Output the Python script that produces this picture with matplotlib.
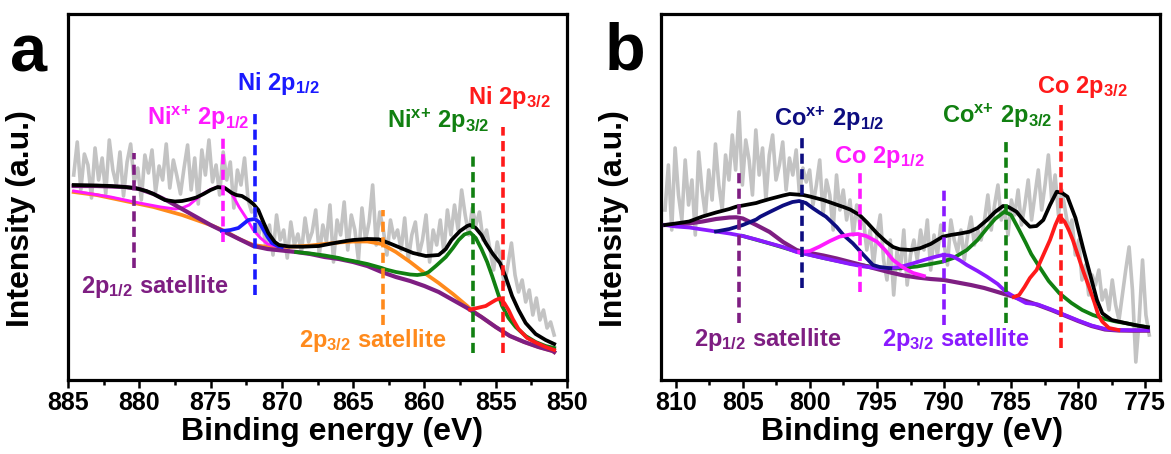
import numpy as np
import matplotlib
matplotlib.use("Agg")
import matplotlib.pyplot as plt

plt.rcParams['font.family'] = ['Liberation Sans', 'DejaVu Sans']
plt.rcParams['font.weight'] = 'bold'
plt.rcParams['mathtext.fontset'] = 'custom'
for k in ['rm', 'it', 'bf', 'sf']:
    plt.rcParams['mathtext.' + k] = 'Liberation Sans:bold'
plt.rcParams['mathtext.default'] = 'rm'

# ---------------- Panel a : Ni 2p ----------------
a_raw = [205, 238, 190, 226, 215, 182, 232, 200, 222, 186, 240, 210, 195, 228, 184, 218, 236, 198, 212, 180,
         225, 207, 230, 188, 214, 200, 236, 192, 220, 204, 186,
         212, 235, 190, 222, 176, 230, 205, 240, 198, 215, 185, 228, 200, 218, 172, 210, 195, 222, 180, 168,
         170, 145, 160, 132, 155, 125, 165, 140, 150, 122, 158, 135, 146, 128, 162, 138,
         148, 170, 125, 155, 138, 175, 118, 160, 145, 178, 130, 165, 150, 120, 172, 140, 158, 195, 135, 168,
         150, 125, 160, 142,
         150, 130, 162, 120, 145, 158, 125, 140, 165, 118, 150, 135, 160, 128, 170, 145,
         175, 150, 190, 165, 145, 172, 155, 168, 140, 150,
         130, 110, 138, 120, 95, 115, 137, 105, 88, 100, 78, 90, 65, 82, 60, 70, 52, 58, 45]
a_raw_e = np.linspace(884.6, 850.9, len(a_raw))

a_bg_e = [884.6, 883, 882, 881, 880, 879, 878, 877, 876, 875, 874, 873, 872, 871, 870, 869, 868, 867, 866, 865,
          864, 863, 862, 861, 860, 859, 858, 857, 856, 855, 854, 853, 852, 851, 850.9]
a_bg = [194, 194, 193.5, 193, 191, 186, 179, 171, 163, 155, 148, 141, 134, 131, 129.5, 128, 126, 123, 121, 118,
        114, 108, 103, 99, 94, 88, 80, 72, 63, 53, 44, 38, 33, 29, 28]

a_sat32_e = [884.6, 883, 882, 881, 880, 879, 878, 877, 876, 875, 874, 873, 872, 871, 870, 869, 868, 867, 866, 865,
             864, 863, 862, 861, 860, 859, 858, 857, 856.7, 856, 855, 854, 853, 852, 851, 850.9]
a_sat32 = [188, 185, 182, 179, 176, 173, 169, 165, 160, 155, 149, 141, 135, 133, 133, 133.5, 134.5, 136, 137.5, 138.5,
           138.5, 136, 128, 118, 107, 97, 86, 74, 70, 63, 53, 44, 38, 33, 29, 28]

a_nix12_e = [884.6, 882, 880, 878.5, 877.5, 877, 876.5, 876, 875.5, 875, 874.5, 874, 873.5, 873, 872.5, 872,
             871.5, 871, 870.5, 870, 869.5]
a_nix12 = [189, 183, 177, 173, 171, 172, 175, 181, 186.5, 190.5, 193, 192, 186, 173, 162, 150, 142, 136, 134, 133.5,
           133.5]

a_ni12_e = [874.2, 873.6, 873.05, 872.7, 872.35, 871.9, 871.6, 871.4, 871, 870.7, 870.3, 870]
a_ni12 = [149, 150, 152, 156, 160, 161, 158, 153, 143, 137, 134, 133]

a_nix32_e = [869, 868, 867, 866, 865.6, 865, 864, 863, 862.7, 862, 861, 860.5, 860, 859.7, 859.2, 858.5, 858,
             857.6, 857.2, 856.8, 856.4, 856, 855.6, 855.25, 854.9, 854.55, 854.1, 853.6, 852.9, 852.2, 851.5,
             850.9]
a_nix32 = [128, 126.5, 124.5, 122, 120.5, 119, 116, 112, 110.5, 108, 105.5, 105, 106, 108, 114, 123, 132,
           140, 145.5, 147.5, 142, 131, 118, 104, 89, 74, 62, 53, 44, 38, 34, 32]

a_ni32_e = [856.8, 856.3, 855.7, 855.3, 855, 854.7, 854.4, 854.1, 853.8, 853.4, 852.8, 852.2, 851.5, 850.9]
a_ni32 = [70.5, 72, 74, 77.5, 80, 81.7, 77, 70, 61, 51, 42, 37.5, 33, 30]

a_env_e = [884.6, 883, 882, 881, 880.3, 879.5, 879, 878.2, 877.5, 877, 876.5, 876, 875.5, 875, 874.5, 874, 873.5,
           873.2, 872.8, 872.35, 872, 871.65, 871.3, 870.95, 870.5, 870.2, 869.5, 868.5, 867.4, 866.5, 865.5, 865,
           864, 863.2, 862.5, 861.6, 860.8, 859.9, 859, 858.5, 858.1, 857.5, 857, 856.8, 856.4, 856, 855.7, 855.2,
           854.7, 854.3, 853.85, 853.4, 852.9, 852.2, 851.5, 850.9]
a_env = [195, 194.5, 194, 193, 192, 189, 186, 180, 178.5, 179, 180.5, 182.5, 186, 190, 193, 192, 187,
         185, 184, 180, 176, 170, 158, 147, 138, 135, 133.5, 133.3, 134, 136.5, 139, 140,
         141, 140.7, 137, 131.7, 127, 124, 125, 131, 140, 149, 154, 155, 152, 145, 137, 126,
         117, 103, 84, 70, 57, 46, 40, 36]

a_mark_e = [880.4, 874.1, 871.9, 862.9, 856.6, 854.5]
a_mark_lo = [112, 138, 85, 55, 27, 27]
a_mark_hi = [227, 242, 268, 170, 227, 253]

a_labels = [r'$Ni^{x\text{+}}\ 2p_{1/2}$', r'$Ni\ 2p_{1/2}$', r'$Ni^{x\text{+}}\ 2p_{3/2}$', r'$Ni\ 2p_{3/2}$',
            r'$2p_{1/2}\ satellite$', r'$2p_{3/2}\ satellite$']
a_label_e = [879.45, 873.12, 862.65, 856.96, 884.09, 868.77]
a_label_y = [255, 290, 252, 276, 87, 33]

# ---------------- Panel b : Co 2p ----------------
b_raw = [170, 215, 150, 232, 185, 160, 220, 175, 200, 145, 228, 190, 165, 210, 180, 236, 195, 170, 225,
         200, 245, 210, 268, 195, 240, 220, 185, 250, 205, 232, 180, 225, 245, 200, 215, 238, 190, 222, 205,
         230, 185, 212, 198,
         210, 175, 195, 220, 165, 200, 185, 150, 205, 170, 190, 160, 180, 145, 175, 155,
         160, 130, 150, 115, 145, 165, 120, 100, 140, 85, 130, 110, 150, 95, 125, 140,
         120, 150, 130, 160, 110, 145, 125, 155, 135, 115, 160, 140, 128, 150, 120, 145, 163, 135, 150, 140,
         160, 185, 150, 175, 195, 160, 170, 145, 180, 165, 190, 155,
         175, 200, 160, 185, 210, 170, 195, 225, 180, 205, 165, 190,
         170, 150, 160, 125, 140, 100, 115, 85, 105, 95, 110, 80,
         90, 70, 100, 75, 60, 85, 110, 133, 90, 18, 60, 120, 65, 45]
b_raw_e = np.linspace(810.8, 774.7, len(b_raw))

b_sat12_e = [810.8, 810, 809, 808, 807, 806, 805.5, 805, 804, 803, 802, 801, 800.5, 800, 799, 798, 797, 796,
             795, 794, 793, 792, 791, 790, 789, 788, 787, 786, 785, 784, 783, 782, 781, 780, 779, 778, 777,
             776, 775, 774.8]
b_sat12 = [155, 155.5, 156.5, 158.5, 161, 162.5, 162.7, 161.5, 155, 148, 138, 130, 128, 127, 124.5, 121.5, 118,
           114.5, 111, 107.5, 104.5, 102.5, 101, 100, 97.5, 95, 92, 88, 84, 79.5, 75, 70, 64.5, 59, 54, 50.5,
           49.5, 49.3, 49.3, 49.3]

b_sat32_e = [810.8, 810, 809, 808, 807, 806, 805, 804, 803, 802, 801, 800, 799, 798, 797, 796, 795, 794.3,
             793.5, 793, 792.3, 791.5, 790.8, 790.1, 789.6, 789.3, 788.8, 788.3, 787.5, 786.8, 786, 785.4,
             784.6, 783.9, 783, 782, 781, 780, 779, 778, 777, 776, 775, 774.8]
b_sat32 = [155, 153.5, 152.5, 150.5, 148.5, 146.5, 144, 140.5, 136.7, 133, 128, 125, 122, 119, 116, 113.5, 112,
           111.7, 112.5, 114, 116.7, 120, 122.7, 125, 124.5, 123.3, 119.5, 115, 109, 103.3, 96, 88.3,
           82, 77, 75.5, 70.5, 65, 59.5, 54.5, 51, 50, 49.8, 49.8, 49.8]

b_cox12_e = [807, 806, 805, 804, 803.7, 803, 802, 801.3, 800.8, 800.3, 799.8, 799.3, 798.8, 798, 797.5, 796.8,
             796, 795.3, 794.8, 794]
b_cox12 = [148.5, 151, 155, 160.5, 163.3, 168, 174.5, 178, 179, 177, 172, 167.5, 163.3, 153, 145, 136.7,
           125, 115, 113, 111.7]

b_co12_e = [800.8, 800, 799.3, 798.5, 797.8, 797, 796.4, 795.8, 795, 794.4, 793.8, 793, 792.3, 791.5]
b_co12 = [128, 129, 133.3, 139, 143.3, 145.5, 146, 144, 138.3, 130, 120, 112, 107, 104]

b_cox32_e = [805, 803, 801, 799, 797, 795, 794, 793.3, 792, 791, 790.1, 789.3, 788.3, 787.5, 786.8, 786.2,
             785.5, 785, 784.4, 783.9, 783.5, 782.9, 782.2, 781.4, 780.5, 779.7, 778.9, 778, 777.2, 776.4,
             775.6, 774.8]
b_cox32 = [144, 136.5, 128.5, 122, 116.5, 112.5, 111.7, 111.7, 113.5, 116, 118.3, 122, 130, 140, 151.7, 161,
           168.3, 165, 150, 137, 126, 113.3, 99, 86.7, 77, 70, 65, 61, 58.5, 56.7, 54.5, 52.7]

b_co32_e = [784.8, 784.4, 784, 783.6, 783.1, 782.6, 782.1, 781.7, 781.4, 781, 780.7, 780.4, 780, 779.6, 779.2,
            778.8, 778.5, 778.2, 777.7, 777]
b_co32 = [83, 85, 93, 102, 110, 125, 140, 155, 164, 158, 150, 140, 124, 108, 93.3, 78, 65, 58.3, 52, 50]

b_env_e = [810.8, 810, 809, 808.7, 808, 807, 806, 805.5, 805, 804, 803.7, 803, 802, 801.5, 800.5, 800, 799,
           798.3, 797.5, 797, 796.3, 795.7, 795, 794.3, 793.8, 793.3, 792.5, 791.8, 791, 790.1, 789.5, 788.8,
           788.1, 787.5, 786.8, 786.2, 785.6, 785.2, 784.6, 784.1, 783.6, 783.1, 782.6, 782.1, 781.6, 781.2,
           780.8, 780.2, 779.6, 779, 778.6, 778.2, 777.5, 776.4, 775.6, 774.8]
b_env = [155, 156.5, 158.5, 160, 163.5, 167.5, 171, 173.3, 174.5, 177, 178.3, 181, 184.5, 186, 185, 183.5, 180,
         176.7, 173, 170.5, 165, 157, 146.7, 138, 133, 130.7, 130, 131.7, 136, 143.3, 145, 146.5,
         148.3, 152, 160, 168, 174, 173, 168.3, 160, 153.3, 154, 160, 175, 188.3, 187,
         183.3, 162, 130, 100, 80, 66.7, 60, 56.7, 54.5, 52.7]

b_mark_e = [805.3, 800.6, 796.3, 790.0, 785.4, 781.3]
b_mark_lo = [57, 92, 88, 55, 57, 32]
b_mark_hi = [210, 245, 208, 192, 243, 278]

b_labels = [r'$Co^{x\text{+}}\ 2p_{1/2}$', r'$Co\ 2p_{1/2}$', r'$Co^{x\text{+}}\ 2p_{3/2}$', r'$Co\ 2p_{3/2}$',
            r'$2p_{1/2}\ satellite$', r'$2p_{3/2}\ satellite$']
b_label_e = [802.67, 798.23, 790.18, 783.1, 808.64, 794.62]
b_label_y = [254, 217, 257, 287, 34, 34]

ticks_a = [885, 880, 875, 870, 865, 860, 855, 850]
ticks_b = [810, 805, 800, 795, 790, 785, 780, 775]

# ---------------- styles ----------------
C_GRAY = '#C3C3C3'
C_PURPLE = '#7E1E82'
C_ORANGE = '#FF8A1C'
C_MAGENTA = '#FF1AFF'
C_BLUE = '#1A1AFF'
C_GREEN = '#118011'
C_RED = '#FF1A1A'
C_NAVY = '#0D0D80'
C_VIOLET = '#8A1AFF'

fig = plt.figure(figsize=(11.71, 4.54), dpi=100)
axa = fig.add_axes([68 / 1171, 74 / 454, 499 / 1171, 366 / 454])
axb = fig.add_axes([661 / 1171, 74 / 454, 499 / 1171, 366 / 454])

LW = 2.7
DASH = (0, (2.8, 1.5))

def style(ax, xlim, ticks):
    ax.set_xlim(*xlim)
    ax.set_ylim(0, 366)
    ax.set_yticks([])
    ax.set_xticks(ticks)
    ax.set_xticks([t - 2.5 for t in ticks[:-1]], minor=True)
    ax.tick_params(axis='x', which='major', direction='out', length=6, width=1.8, pad=2, labelsize=18)
    ax.tick_params(axis='x', which='minor', direction='out', length=3.5, width=1.8)
    for s in ax.spines.values():
        s.set_linewidth(2.3)
    ax.set_xlabel('Binding energy (eV)', fontsize=23, fontweight='bold')
    ax.set_ylabel('Intensity (a.u.)', fontsize=23, fontweight='bold')
    ax.yaxis.set_label_coords(-0.064, 0.44)

# panel a
axa.plot(a_raw_e, a_raw, color=C_GRAY, lw=2.6, zorder=1)
axa.plot(a_sat32_e, a_sat32, color=C_ORANGE, lw=LW, zorder=2)
axa.plot(a_nix12_e, a_nix12, color=C_MAGENTA, lw=LW - 0.6, zorder=3)
axa.plot(a_bg_e, a_bg, color=C_PURPLE, lw=LW + 0.3, zorder=4)
axa.plot(a_ni12_e, a_ni12, color=C_BLUE, lw=LW, zorder=5)
axa.plot(a_nix32_e, a_nix32, color=C_GREEN, lw=LW, zorder=5)
axa.plot(a_ni32_e, a_ni32, color=C_RED, lw=LW, zorder=5)
axa.plot(a_env_e, a_env, color='black', lw=LW, zorder=6)
a_mark_c = [C_PURPLE, C_MAGENTA, C_BLUE, C_ORANGE, C_GREEN, C_RED]
for e, lo, hi, c in zip(a_mark_e, a_mark_lo, a_mark_hi, a_mark_c):
    axa.plot([e, e], [lo, hi], color=c, lw=2.6, linestyle=DASH, zorder=7)
a_lab_c = [C_MAGENTA, C_BLUE, C_GREEN, C_RED, C_PURPLE, C_ORANGE]
for t, e, y, c in zip(a_labels, a_label_e, a_label_y, a_lab_c):
    axa.text(e, y, t, color=c, fontsize=17, ha='left', va='baseline', zorder=8)
style(axa, (885, 850), ticks_a)
axa.xaxis.set_label_coords(0.529, -0.1)

# panel b
axb.plot(b_raw_e, b_raw, color=C_GRAY, lw=2.6, zorder=1)
axb.plot(b_cox32_e, b_cox32, color=C_GREEN, lw=LW, zorder=3)
axb.plot(b_sat12_e, b_sat12, color=C_PURPLE, lw=LW + 0.3, zorder=3)
axb.plot(b_sat32_e, b_sat32, color=C_VIOLET, lw=LW, zorder=4)
axb.plot(b_cox12_e, b_cox12, color=C_NAVY, lw=LW, zorder=5)
axb.plot(b_co12_e, b_co12, color=C_MAGENTA, lw=LW, zorder=5)
axb.plot(b_co32_e, b_co32, color=C_RED, lw=LW, zorder=5)
axb.plot(b_env_e, b_env, color='black', lw=LW, zorder=6)
b_mark_c = [C_PURPLE, C_NAVY, C_MAGENTA, C_VIOLET, C_GREEN, C_RED]
for e, lo, hi, c in zip(b_mark_e, b_mark_lo, b_mark_hi, b_mark_c):
    axb.plot([e, e], [lo, hi], color=c, lw=2.6, linestyle=DASH, zorder=7)
b_lab_c = [C_NAVY, C_MAGENTA, C_GREEN, C_RED, C_PURPLE, C_VIOLET]
for t, e, y, c in zip(b_labels, b_label_e, b_label_y, b_lab_c):
    axb.text(e, y, t, color=c, fontsize=17, ha='left', va='baseline', zorder=8)
style(axb, (811.1, 773.9), ticks_b)
axb.xaxis.set_label_coords(0.503, -0.1)

fig.text(10 / 1171, 1 - 72 / 454, 'a', fontsize=48, fontweight='bold', ha='left', va='baseline')
fig.text(605 / 1171, 1 - 70 / 454, 'b', fontsize=48, fontweight='bold', ha='left', va='baseline')

fig.savefig('out.png', dpi=100)
